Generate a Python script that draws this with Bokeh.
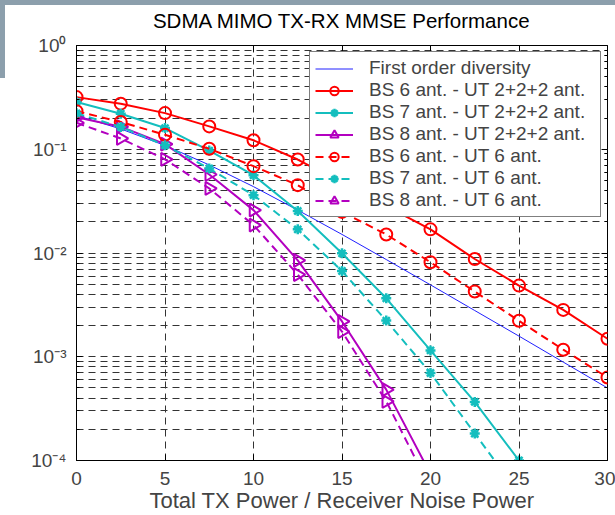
import math
from bokeh.plotting import figure
from bokeh.models import (Range1d, FixedTicker, LinearAxis, LogAxis, Legend,
                          LegendItem, Label, CustomJSTickFormatter)
from bokeh.embed import file_html
from bokeh.resources import INLINE

# ---------------- data ----------------
snr_db = [0, 2.5, 5, 7.5, 10, 12.5, 15, 17.5, 20, 22.5, 25, 27.5, 30]

first_order = [0.2113, 0.157, 0.1087, 0.0706, 0.0436, 0.0259, 0.0151,
               0.00865, 0.00493, 0.00279, 0.00158, 0.000888, 0.0005]

bs6_ut222 = [0.318, 0.275, 0.223, 0.166, 0.122, 0.0796, 0.0475, 0.0283,
             0.0169, 0.00875, 0.00485, 0.00283, 0.00149]
bs7_ut222 = [0.285, 0.220, 0.160, 0.097, 0.0562, 0.0254, 0.00993, 0.00366,
             0.00115, 0.000367, 0.0001]
bs8_ut222 = [0.203, 0.165, 0.112, 0.0571, 0.0259, 0.0085, 0.00219,
             0.000482, 0.000074]

bs6_ut6 = [0.233, 0.183, 0.138, 0.101, 0.0687, 0.0451, 0.0249, 0.0151,
           0.00814, 0.00425, 0.00222, 0.00117, 0.000632]
bs7_ut6 = [0.222, 0.164, 0.109, 0.0652, 0.0361, 0.0169, 0.00671, 0.00223,
           0.000697, 0.000182, 0.000048]
bs8_ut6 = [0.180, 0.127, 0.080, 0.0419, 0.0186, 0.0062, 0.00175, 0.000372,
           0.000054]

x_ticks = [0, 5, 10, 15, 20, 25, 30]
y_ticks = [1e-4, 1e-3, 1e-2, 1e-1, 1]
y_tick_labels = ["10\u207b\u2074", "10\u207b\u00b3", "10\u207b\u00b2",
                 "10\u207b\u00b9", "10\u2070"]

labels = ["First order diversity",
          "BS 6 ant. - UT 2+2+2 ant.",
          "BS 7 ant. - UT 2+2+2 ant.",
          "BS 8 ant. - UT 2+2+2 ant.",
          "BS 6 ant. - UT 6 ant.",
          "BS 7 ant. - UT 6 ant.",
          "BS 8 ant. - UT 6 ant."]

title_text = "SDMA MIMO TX-RX MMSE Performance"
x_label = "Total TX Power / Receiver Noise Power"
y_label = "BER"

# ---------------- styling ----------------
FONT = "Liberation Sans"
RED = "#ff0000"
CYAN = "#14bebe"
MAG = "#b300c0"
BLUE = "#2020ff"
GRID = "#333333"
SLATE = "#8c9fac"

W, H = 615, 515
BL, BR, BT, BB = 76, 8, 45, 54
FW, FH = W - BL - BR, H - BT - BB

p = figure(width=W, height=H, x_range=Range1d(0, 30),
           y_range=Range1d(1e-4, 1), y_axis_type="log",
           output_backend="svg", toolbar_location=None,
           min_border_left=BL, min_border_right=BR, min_border_top=BT,
           min_border_bottom=BB)

p.background_fill_color = "white"
p.border_fill_color = None
p.styles = {
    "background": (f"linear-gradient({SLATE}, {SLATE}) 0 0 / 100% 5px no-repeat, "
                   f"linear-gradient({SLATE}, {SLATE}) 0 0 / 5px 78px no-repeat, white")
}
p.outline_line_color = "black"
p.outline_line_width = 1

minor_y = [m * 10.0 ** e for e in range(-4, 0) for m in range(2, 10)]
yticker = FixedTicker(ticks=y_ticks, minor_ticks=minor_y)
xticker = FixedTicker(ticks=x_ticks)

yfmt = CustomJSTickFormatter(args=dict(tv=y_ticks, tl=y_tick_labels), code="""
for (let i = 0; i < tv.length; i++) {
  if (Math.abs(Math.log10(tv[i]) - Math.log10(tick)) < 1e-6) return tl[i];
}
return '';
""")

# x axis
xa = p.xaxis[0]
xa.ticker = xticker
xa.axis_label = x_label
xa.axis_label_text_font = FONT
xa.axis_label_text_font_size = "22px"
xa.axis_label_text_font_style = "normal"
xa.axis_label_standoff = 0
xa.major_label_text_font = FONT
xa.major_label_text_font_size = "19px"
xa.major_label_standoff = 11
xa.major_tick_in = 6
xa.major_tick_out = 0
xa.minor_tick_line_color = None
xa.axis_line_color = "black"

# y axis
ya = p.yaxis[0]
ya.ticker = yticker
ya.formatter = yfmt
ya.major_label_text_font = FONT
ya.major_label_text_font_size = "19px"
ya.major_label_standoff = 10
ya.major_tick_in = 6
ya.major_tick_out = 0
ya.minor_tick_in = 3
ya.minor_tick_out = 0
ya.axis_line_color = "black"

# box ticks on top / right (labels invisible); the top one carries the title
top = LinearAxis(ticker=xticker, major_label_text_font_size="1px",
                 major_label_text_color=None,
                 major_tick_in=6, major_tick_out=0, minor_tick_line_color=None,
                 axis_line_color=None, major_label_standoff=0,
                 axis_label=title_text, axis_label_text_font=FONT,
                 axis_label_text_font_size="20.5px",
                 axis_label_text_font_style="normal",
                 axis_label_text_color="black", axis_label_standoff=14)
right = LogAxis(ticker=yticker, major_label_text_font_size="1px",
                major_label_text_color=None,
                major_tick_in=6, major_tick_out=0, minor_tick_in=3,
                minor_tick_out=0, axis_line_color=None, major_label_standoff=0)
p.add_layout(top, "above")
p.add_layout(right, "right")

# grids
p.xgrid.ticker = xticker
p.xgrid.grid_line_color = GRID
p.xgrid.grid_line_dash = "7 5"
p.xgrid.grid_line_width = 1
p.ygrid.ticker = yticker
p.ygrid.grid_line_color = GRID
p.ygrid.grid_line_dash = "7 5"
p.ygrid.grid_line_width = 1
p.ygrid.minor_grid_line_color = GRID
p.ygrid.minor_grid_line_dash = "7 5"
p.ygrid.minor_grid_line_width = 1

items = []

# first order diversity
r = p.line(snr_db, first_order, line_color=BLUE, line_width=1)
items.append(LegendItem(label=labels[0], renderers=[r]))

series = [
    (bs6_ut222, RED, "solid", "circle", labels[1]),
    (bs7_ut222, CYAN, "solid", "asterisk", labels[2]),
    (bs8_ut222, MAG, "solid", "triangle", labels[3]),
    (bs6_ut6, RED, "8 5", "circle", labels[4]),
    (bs7_ut6, CYAN, "8 5", "asterisk", labels[5]),
    (bs8_ut6, MAG, "8 5", "triangle", labels[6]),
]

for vals, col, dash, mk, lab in series:
    xs = snr_db[:len(vals)]
    lr = p.line(xs, vals, line_color=col, line_width=2, line_dash=dash)
    if mk == "circle":
        mr = p.scatter(xs, vals, marker="circle", size=12, line_color=col,
                       line_width=2, fill_color=None)
    elif mk == "asterisk":
        mr = p.scatter(xs, vals, marker="asterisk", size=10, line_color=col,
                       line_width=2.5, fill_color=None)
    else:
        mr = p.scatter(xs, vals, marker="triangle", size=13, line_color=col,
                       line_width=2, fill_color=None, angle=-math.pi / 2)
    items.append(LegendItem(label=lab, renderers=[lr, mr]))

legend = Legend(items=items, location="top_right")
legend.label_text_font = FONT
legend.label_text_font_size = "19px"
legend.label_height = 21
legend.glyph_height = 21
legend.glyph_width = 38
legend.label_width = 226
legend.label_standoff = 16
legend.spacing = 0
legend.padding = 5
legend.margin = 6
legend.border_line_color = "black"
legend.border_line_width = 1
legend.background_fill_color = "white"
legend.background_fill_alpha = 1
p.add_layout(legend)

ber = Label(x=-69, y=FH - 43, x_units="screen", y_units="screen", text=y_label,
            text_font=FONT, text_font_size="21px", text_baseline="middle",
            text_align="left", text_color="black")
p.add_layout(ber)

open("out.html", "w").write(file_html(p, INLINE))
